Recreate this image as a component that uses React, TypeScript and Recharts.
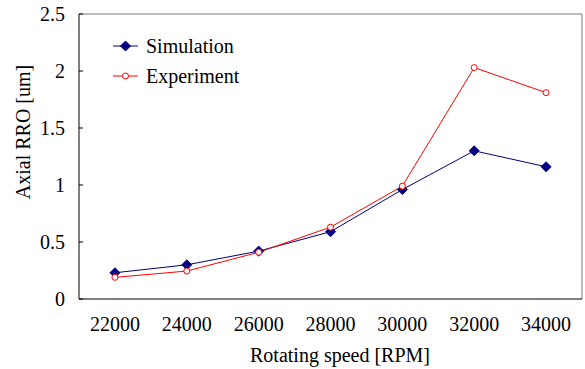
import { Label, Legend, Line, LineChart, ReferenceLine, XAxis, YAxis } from "recharts";

const speeds = [22000, 24000, 26000, 28000, 30000, 32000, 34000];
const simulation = [0.23, 0.3, 0.42, 0.59, 0.96, 1.3, 1.16];
const experiment = [0.19, 0.245, 0.41, 0.63, 0.99, 2.03, 1.81];
const yTicks = [0, 0.5, 1, 1.5, 2, 2.5];
const minorTicks = [
  21000, 22000, 23000, 24000, 25000, 26000, 27000, 28000, 29000, 30000, 31000, 32000, 33000, 34000, 35000,
];

const data = speeds.map((speed, i) => ({
  speed,
  simulation: simulation[i],
  experiment: experiment[i],
}));

const FONT = "Liberation Serif, DejaVu Serif, serif";
const FS = 20;
const NAVY = "#000080";
const RED = "#ff0000";

function Diamond(props: any) {
  const { cx, cy } = props;
  if (cx == null || cy == null) return null;
  return <path d={`M${cx},${cy - 5}L${cx + 5},${cy}L${cx},${cy + 5}L${cx - 5},${cy}Z`} fill={NAVY} stroke={NAVY} />;
}

function LegendBox() {
  return (
    <svg width={170} height={60}>
      <line x1={8} x2={33} y1={16} y2={16} stroke={NAVY} />
      <Diamond cx={20.5} cy={16} />
      <text x={41} y={16} dominantBaseline="central" fontSize={FS} fontFamily={FONT} fill="#000">
        Simulation
      </text>
      <line x1={8} x2={33} y1={46} y2={46} stroke={RED} />
      <circle cx={20.5} cy={46} r={3} fill="#fff" stroke={RED} />
      <text x={41} y={46} dominantBaseline="central" fontSize={FS} fontFamily={FONT} fill="#000">
        Experiment
      </text>
    </svg>
  );
}

export default function App() {
  return (
    <div style={{ position: "absolute", left: 0, top: 0, background: "#fff", fontFamily: FONT }}>
      <LineChart width={585} height={369} data={data} margin={{ top: 14, right: 3, left: 0, bottom: 0 }}>
        <XAxis
          xAxisId="minor"
          type="number"
          dataKey="speed"
          domain={[21000, 35000]}
          ticks={minorTicks}
          tick={false}
          tickSize={-3}
          axisLine={false}
          tickLine={{ stroke: "#000" }}
          height={0}
          interval={0}
        />
        <XAxis
          type="number"
          dataKey="speed"
          domain={[21000, 35000]}
          ticks={speeds}
          tickLine={false}
          tickSize={6}
          tickMargin={12}
          axisLine={{ stroke: "#000" }}
          tick={{ fontSize: FS, fill: "#000", fontFamily: FONT }}
          height={70}
          interval={0}
        >
          <Label
            content={() => (
              <text
                x={340}
                y={355}
                textAnchor="middle"
                dominantBaseline="central"
                fontSize={FS}
                fontFamily={FONT}
                fill="#000"
              >
                Rotating speed [RPM]
              </text>
            )}
          />
        </XAxis>
        <YAxis
          domain={[0, 2.5]}
          ticks={yTicks}
          width={79}
          tickSize={-4}
          tickMargin={18}
          axisLine={{ stroke: "#000" }}
          tickLine={{ stroke: "#000" }}
          tick={{ fontSize: FS, fill: "#000", fontFamily: FONT }}
          interval={0}
        >
          <Label
            content={() => (
              <text
                x={23}
                y={132}
                transform="rotate(-90, 23, 132)"
                textAnchor="middle"
                dominantBaseline="central"
                fontSize={FS}
                fontFamily={FONT}
                fill="#000"
              >
                Axial RRO [um]
              </text>
            )}
          />
        </YAxis>
        <ReferenceLine y={2.5} stroke="#a6a6a6" strokeWidth={1.5} />
        <ReferenceLine x={35000} stroke="#a6a6a6" strokeWidth={1.5} />
        <Legend
          layout="horizontal"
          verticalAlign="middle"
          align="center"
          wrapperStyle={{ left: 105, top: 30, width: 170, height: 60 }}
          content={() => <LegendBox />}
        />
        <Line
          dataKey="simulation"
          stroke={NAVY}
          strokeWidth={1}
          dot={(p: any) => <Diamond key={`s${p.index}`} {...p} />}
          activeDot={false}
          isAnimationActive={false}
        />
        <Line
          dataKey="experiment"
          stroke={RED}
          strokeWidth={1}
          dot={{ r: 3, fill: "#fff", stroke: RED, strokeWidth: 1 }}
          activeDot={false}
          isAnimationActive={false}
        />
      </LineChart>
    </div>
  );
}
